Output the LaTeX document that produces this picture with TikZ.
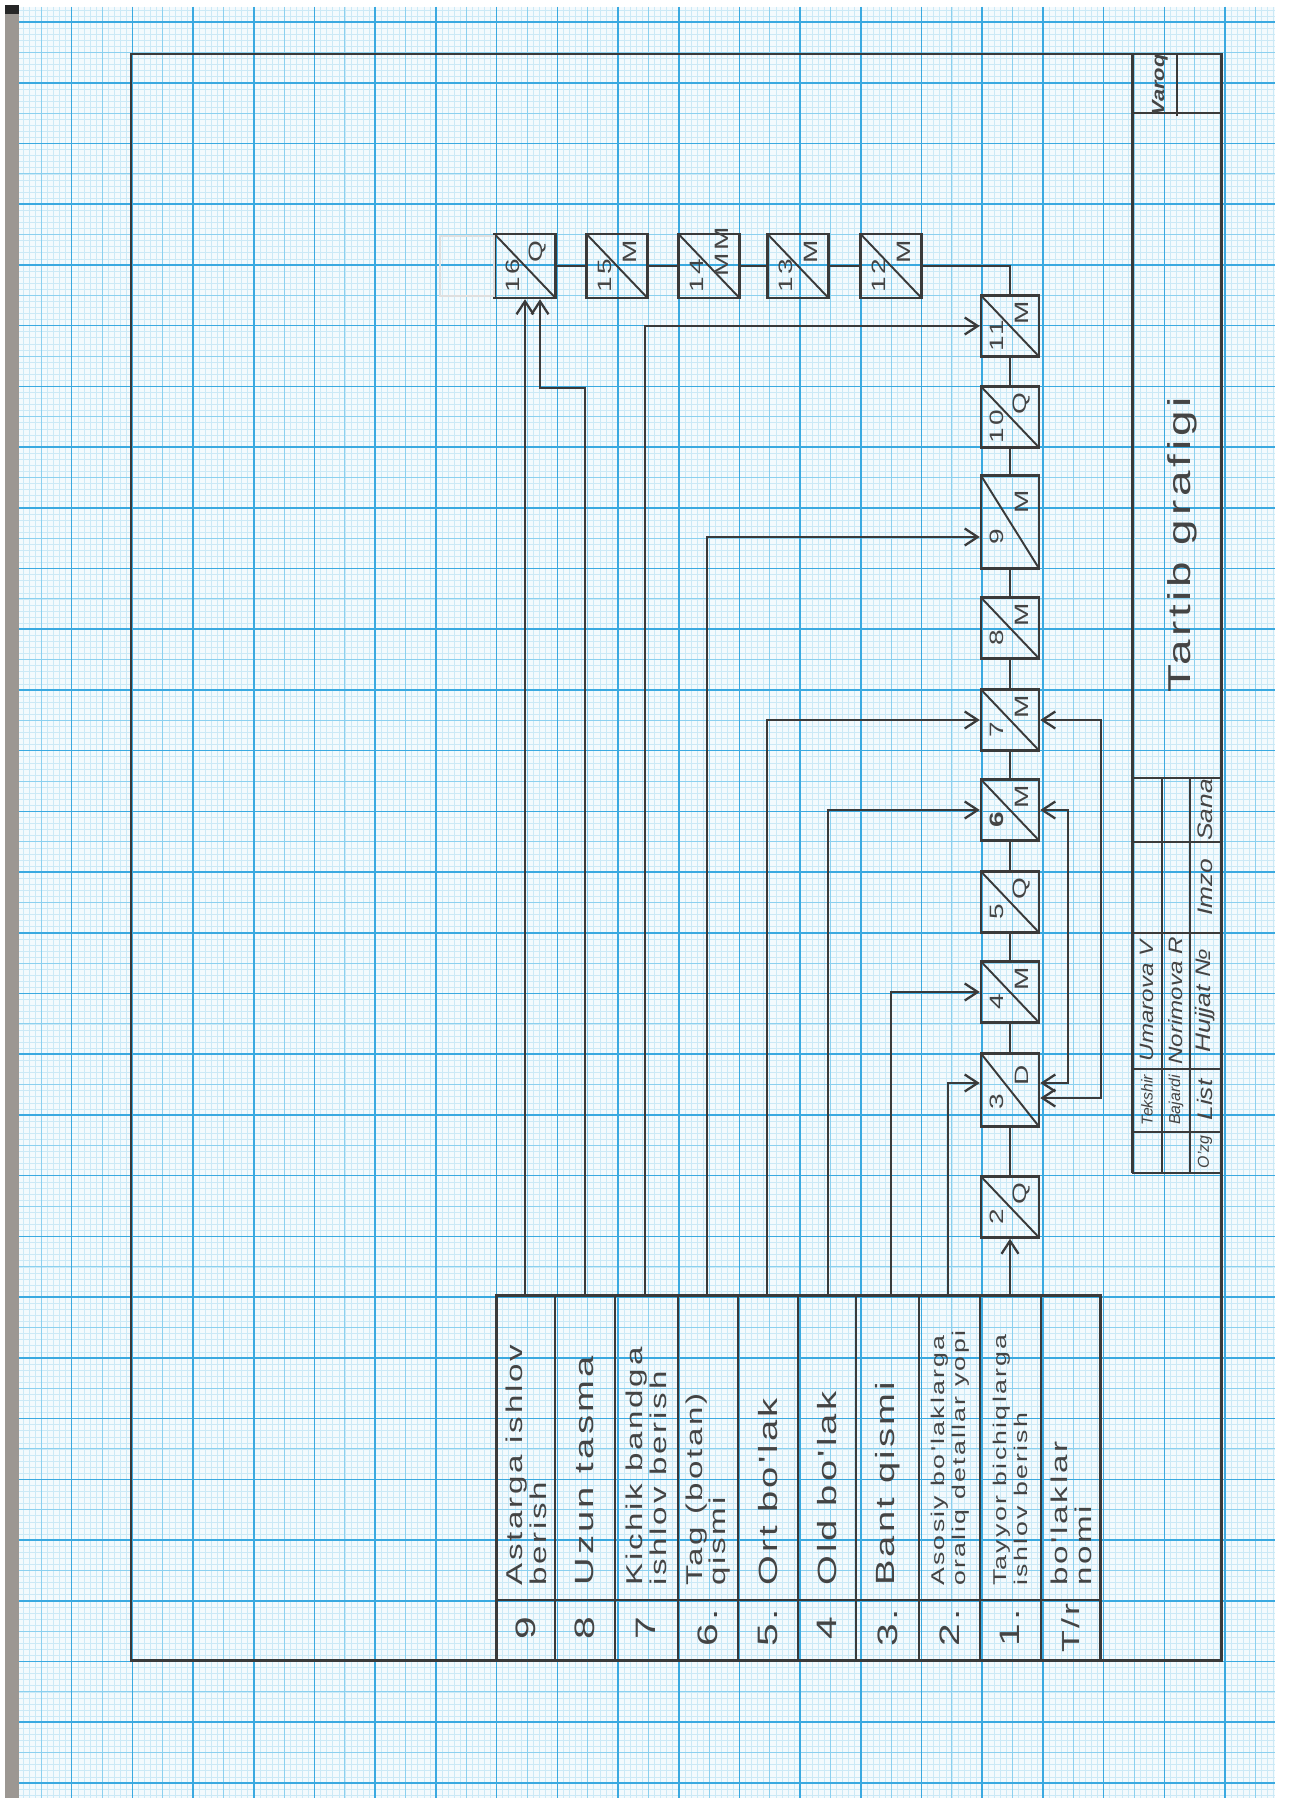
\documentclass[tikz,border=0pt]{standalone}
\usepackage{fontspec}
\setmainfont{Liberation Sans}
\newfontfamily\handfont[FakeStretch=1.45,LetterSpace=12]{Liberation Sans}
\newfontfamily\stampfont[FakeStretch=1.25]{Liberation Sans}
\usetikzlibrary{arrows.meta,calc}
\definecolor{pencil}{HTML}{3A3A3A}
\definecolor{ink}{HTML}{444444}
\definecolor{paper}{HTML}{F3FAFD}
\definecolor{gridfine}{HTML}{CBE9F6}
\definecolor{gridmid}{HTML}{8BD0EF}
\definecolor{gridbold}{HTML}{3AA9E0}
\definecolor{scanedge}{HTML}{9C9792}

\begin{document}
\begin{tikzpicture}[
    x=0.2mm, y=-0.2mm,
    >={Straight Barb[length=2.6mm,width=3.4mm]},
    fine/.style={draw=gridfine, line width=0.3pt},
    mid/.style={draw=gridmid, line width=0.5pt},
    bold/.style={draw=gridbold, line width=0.9pt},
    frame/.style={draw=pencil, line width=1.7pt},
    rule/.style={draw=pencil, line width=1.3pt},
    flow/.style={->, draw=pencil, line width=1.3pt},
    fback/.style={<->, draw=pencil, line width=1.3pt},
    opbox/.style={draw=pencil, line width=1.4pt, minimum width=11.6mm, minimum height=12.2mm, inner sep=0pt,
        path picture={\draw[pencil, line width=1.1pt] (path picture bounding box.north west) -- (path picture bounding box.south east);}},
    topbox/.style={opbox, minimum width=12.2mm, minimum height=12.8mm},
    boxtxt/.style={rotate=90, inner sep=0pt, text=ink, font=\handfont\fontsize{11}{11}\selectfont},
    rowname/.style={rotate=90, anchor=west, align=left, inner sep=0pt, text=ink, font=\handfont\fontsize{13}{13.5}\selectfont},
    rowbig/.style={rowname, font=\handfont\fontsize{15}{15}\selectfont},
    rowsmall/.style={rowname, font=\handfont\fontsize{10.5}{12}\selectfont},
    rownum/.style={rotate=90, inner sep=0pt, text=ink, font=\handfont\fontsize{16}{16}\selectfont},
    stamp/.style={rotate=90, inner sep=0pt, text=ink, font=\stampfont\itshape\fontsize{11}{11}\selectfont},
    stampsmall/.style={stamp, font=\itshape\fontsize{9}{9}\selectfont},
    title/.style={rotate=90, inner sep=0pt, text=ink, font=\handfont\fontsize{18}{18}\selectfont},
]
    \useasboundingbox (0,0) rectangle (1301,1798);
    \fill[white] (0,0) rectangle (1301,1798);

    % =====================================================================
    % GRAPH PAPER
    % =====================================================================
    \begin{scope}
        \clip (19,7) rectangle (1275,1798);
        \fill[paper] (19,7) rectangle (1275,1798);
        \foreach \i in {-2,...,209} {\draw[fine] ({11+6.07*\i},7) -- ++(0,1791);}
        \foreach \j in {-3,...,296} {\draw[fine] (19,{22+6.072*\j}) -- ++(1256,0);}
        \foreach \i in {-1,...,42} {\draw[mid] ({11+30.35*\i},7) -- ++(0,1791);}
        \foreach \j in {-1,...,59} {\draw[mid] (19,{22+30.36*\j}) -- ++(1256,0);}
        \foreach \i in {0,...,21} {\draw[bold] ({11+60.7*\i},7) -- ++(0,1791);}
        \foreach \j in {0,...,29} {\draw[bold] (19,{22+60.72*\j}) -- ++(1256,0);}
    \end{scope}
    \fill[scanedge] (5,10) rectangle (19,1798);
    \fill[black!85] (5,5) rectangle (19,14);

    % =====================================================================
    % FRAME AND TITLE STRIP
    % =====================================================================
    \draw[frame] (131,54) rectangle (1221,1660);
    \draw[frame] (1132,54) -- (1132,1173);

    % Varoq cell
    \draw[rule] (1132,113) -- (1221,113);
    \draw[rule] (1177,54) -- (1177,116);
    \node[stamp, font=\stampfont\itshape\bfseries\fontsize{10}{10}\selectfont] (varoq) at (1160,85) {Varoq};

    % Title
    \node[title] (title) at (1182,545) {Tartib grafigi};

    % Stamp table
    \draw[rule] (1132,778) -- (1221,778);
    \draw[rule] (1132,842) -- (1221,842);
    \draw[rule] (1132,933) -- (1221,933);
    \draw[rule] (1132,1069) -- (1221,1069);
    \draw[rule] (1132,1132) -- (1221,1132);
    \draw[rule] (1132,1173) -- (1221,1173);
    \draw[rule] (1162,778) -- (1162,1173);
    \draw[rule] (1190,778) -- (1190,1173);

    \node[stampsmall] (tekshir) at (1147,1100) {Tekshir};
    \node[stamp] (umarova) at (1147,1001) {Umarova V};
    \node[stampsmall] (bajardi) at (1176,1100) {Bajardi};
    \node[stamp] (norimova) at (1176,1001) {Norimova R};
    \node[stampsmall] (ozg) at (1205,1152) {O'zg};
    \node[stamp, font=\stampfont\itshape\fontsize{12}{12}\selectfont] (list) at (1205,1100) {List};
    \node[stamp, font=\stampfont\itshape\fontsize{12}{12}\selectfont] (hujjat) at (1205,1001) {Hujjat №};
    \node[stamp, font=\stampfont\itshape\fontsize{12}{12}\selectfont] (imzo) at (1205,887) {Imzo};
    \node[stamp, font=\stampfont\itshape\fontsize{12}{12}\selectfont] (sana) at (1205,810) {Sana};

    % =====================================================================
    % PARTS TABLE
    % =====================================================================
    \draw[frame] (496,1295) rectangle (1100,1660);
    \draw[rule] (496,1600) -- (1100,1600);
    \foreach \x in {555,615,678,738,798,856,919,980,1041} {\draw[rule] (\x,1295) -- (\x,1660);}

    \node[rownum] (t9) at (526,1628) {9};
    \node[rownum] (t8) at (585,1628) {8};
    \node[rownum] (t7) at (646,1628) {7};
    \node[rownum] (t6) at (708,1628) {6.};
    \node[rownum] (t5) at (768,1628) {5.};
    \node[rownum] (t4) at (827,1628) {4};
    \node[rownum] (t3) at (888,1628) {3.};
    \node[rownum] (t2) at (950,1628) {2.};
    \node[rownum] (t1) at (1010,1628) {1.};
    \node[rownum, font=\handfont\fontsize{14}{14}\selectfont] (tr) at (1071,1628) {T/r};

    \node[rowname] (n9) at (526,1586) {Astarga ishlov\\berish};
    \node[rowbig] (n8) at (585,1586) {Uzun tasma};
    \node[rowname] (n7) at (646,1586) {Kichik bandga\\ishlov berish};
    \node[rowname] (n6) at (708,1586) {Tag (botan)\\qismi};
    \node[rowbig] (n5) at (768,1586) {Ort bo'lak};
    \node[rowbig] (n4) at (827,1586) {Old bo'lak};
    \node[rowbig] (n3) at (888,1586) {Bant qismi};
    \node[rowsmall] (n2) at (950,1586) {Asosiy bo'laklarga\\oraliq detallar yopi};
    \node[rowsmall] (n1) at (1010,1586) {Tayyor bichiqlarga\\ishlov berish};
    \node[rowname] (ntr) at (1071,1586) {bo'laklar\\nomi};

    % line starts on the table top
    \coordinate (r9) at (525,1295);
    \coordinate (r8) at (585,1295);
    \coordinate (r7) at (645,1295);
    \coordinate (r6) at (707,1295);
    \coordinate (r5) at (767,1295);
    \coordinate (r4) at (828,1295);
    \coordinate (r3) at (891,1295);
    \coordinate (r2) at (948,1295);
    \coordinate (r1) at (1010,1295);

    % =====================================================================
    % OPERATION BOXES
    % =====================================================================
    \node[opbox] (b2) at (1010,1207) {};
    \node[boxtxt] (b2n) at ($(b2)+(-13,10)$) {2};
    \node[boxtxt] (b2l) at ($(b2)+(12,-13)$) {Q};

    \node[opbox, minimum height=14.6mm] (b3) at (1010,1090) {};
    \node[boxtxt] (b3n) at ($(b3)+(-13,12)$) {3};
    \node[boxtxt] (b3l) at ($(b3)+(12,-15)$) {D};

    \node[opbox] (b4) at (1010,992) {};
    \node[boxtxt] (b4n) at ($(b4)+(-13,10)$) {4};
    \node[boxtxt] (b4l) at ($(b4)+(12,-13)$) {M};

    \node[opbox] (b5) at (1010,902) {};
    \node[boxtxt] (b5n) at ($(b5)+(-13,10)$) {5};
    \node[boxtxt] (b5l) at ($(b5)+(12,-13)$) {Q};

    \node[opbox] (b6) at (1010,810) {};
    \node[boxtxt] (b6n) at ($(b6)+(-13,10)$) {\bfseries 6};
    \node[boxtxt] (b6l) at ($(b6)+(12,-13)$) {M};

    \node[opbox] (b7) at (1010,720) {};
    \node[boxtxt] (b7n) at ($(b7)+(-13,10)$) {7};
    \node[boxtxt] (b7l) at ($(b7)+(12,-13)$) {M};

    \node[opbox] (b8) at (1010,628) {};
    \node[boxtxt] (b8n) at ($(b8)+(-13,10)$) {8};
    \node[boxtxt] (b8l) at ($(b8)+(12,-13)$) {M};

    \node[opbox, minimum height=18.6mm] (b9) at (1010,522) {};
    \node[boxtxt] (b9n) at ($(b9)+(-13,15)$) {9};
    \node[boxtxt] (b9l) at ($(b9)+(12,-20)$) {M};

    \node[opbox] (b10) at (1010,417) {};
    \node[boxtxt] (b10n) at ($(b10)+(-13,10)$) {10};
    \node[boxtxt] (b10l) at ($(b10)+(12,-13)$) {Q};

    \node[opbox] (b11) at (1010,326) {};
    \node[boxtxt] (b11n) at ($(b11)+(-13,10)$) {11};
    \node[boxtxt] (b11l) at ($(b11)+(12,-13)$) {M};

    \node[topbox] (b12) at (891,266) {};
    \node[boxtxt] (b12n) at ($(b12)+(-12,10)$) {12};
    \node[boxtxt] (b12l) at ($(b12)+(13,-14)$) {M};

    \node[topbox] (b13) at (798,266) {};
    \node[boxtxt] (b13n) at ($(b13)+(-12,10)$) {13};
    \node[boxtxt] (b13l) at ($(b13)+(13,-14)$) {M};

    \node[topbox] (b14) at (709,266) {};
    \node[boxtxt] (b14n) at ($(b14)+(-12,10)$) {14};
    \node[boxtxt] (b14l) at ($(b14)+(13,-14)$) {MM};

    \node[topbox] (b15) at (617,266) {};
    \node[boxtxt] (b15n) at ($(b15)+(-12,10)$) {15};
    \node[boxtxt] (b15l) at ($(b15)+(13,-14)$) {M};

    \node[topbox] (b16) at (525,266) {};
    \node[boxtxt] (b16n) at ($(b16)+(-12,10)$) {16};
    \node[boxtxt] (b16l) at ($(b16)+(13,-14)$) {Q};

    % erased box left of 16
    \draw[gray!25, line width=0.6pt] (440,236) rectangle (494,296);

    % Chain between the boxes
    \draw[rule] (b2.north) -- (b3.south);
    \draw[rule] (b3.north) -- (b4.south);
    \draw[rule] (b4.north) -- (b5.south);
    \draw[rule] (b5.north) -- (b6.south);
    \draw[rule] (b6.north) -- (b7.south);
    \draw[rule] (b7.north) -- (b8.south);
    \draw[rule] (b8.north) -- (b9.south);
    \draw[rule] (b9.north) -- (b10.south);
    \draw[rule] (b10.north) -- (b11.south);
    \draw[rule] (b12.east) -| (b11.north);
    \draw[rule] (b12.west) -- (b13.east);
    \draw[rule] (b13.west) -- (b14.east);
    \draw[rule] (b14.west) -- (b15.east);
    \draw[rule] (b15.west) -- (b16.east);

    % =====================================================================
    % FEEDS FROM THE TABLE
    % =====================================================================
    \coordinate (k8) at (540,388);
    \draw[flow] (r1) -- (b2.south);
    \draw[flow] (r2) |- ($(b3.west)+(0,-7)$);
    \draw[flow] (r3) |- (b4.west);
    \draw[flow] (r4) |- (b6.west);
    \draw[flow] (r5) |- (b7.west);
    \draw[flow] (r6) |- ($(b9.west)+(0,15)$);
    \draw[flow] (r7) |- (b11.west);
    \draw[flow] (r8) |- (k8) -- (k8 |- b16.south);
    \draw[flow] (r9) -- (b16.south);

    % Returns from box 3
    \coordinate (f6) at (1068,1083);
    \coordinate (f7) at (1101,1098);
    \draw[fback] ($(b3.east)+(0,-7)$) -- (f6) |- (b6.east);
    \draw[fback] ($(b3.east)+(0,8)$) -- (f7) |- (b7.east);

\end{tikzpicture}
\end{document}
